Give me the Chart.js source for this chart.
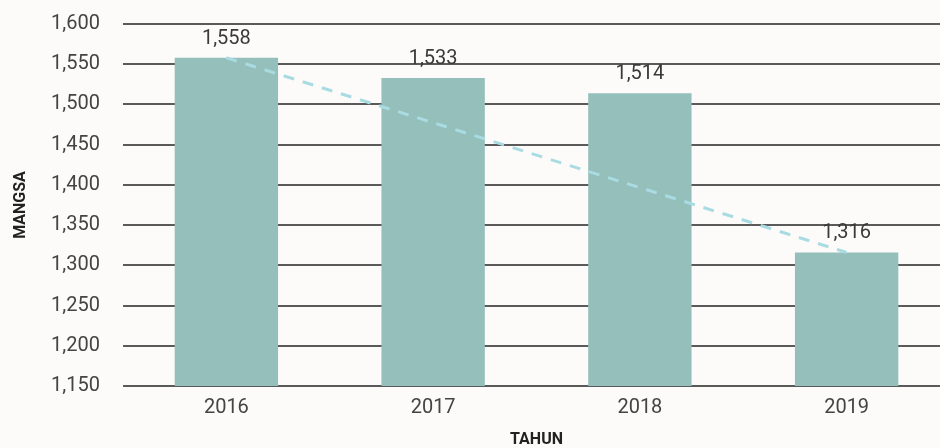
<!DOCTYPE html>
<html>
<head>
<meta charset="utf-8">
<script src="https://cdn.jsdelivr.net/npm/chart.js@4/dist/chart.umd.min.js"></script>
<style>
    html, body { margin: 0; padding: 0; background: #fdfbf9; overflow: hidden; }
    #wrap { width: 950px; height: 448px; }
</style>
</head>
<body>
<div id="wrap"><canvas id="chart"></canvas></div>
<script>
const years = ['2016', '2017', '2018', '2019'];
const mangsa = [1558, 1533, 1514, 1316];
// dashed trend from first year to last year
const trend = [1558, null, null, 1316];
const yTicks = [1150, 1200, 1250, 1300, 1350, 1400, 1450, 1500, 1550, 1600];

const barLabels = {
    id: 'barLabels',
    afterDatasetsDraw(chart) {
        const ctx = chart.ctx;
        const meta = chart.getDatasetMeta(1);
        ctx.save();
        ctx.font = '20px Roboto';
        ctx.fillStyle = '#3a3a3a';
        ctx.textAlign = 'center';
        ctx.textBaseline = 'middle';
        meta.data.forEach((bar, i) => {
            ctx.fillText(mangsa[i].toLocaleString('en-US'), bar.x, bar.y - 19);
        });
        ctx.restore();
    }
};

document.addEventListener('DOMContentLoaded', function() {
    const ctx = document.getElementById('chart').getContext('2d');
    new Chart(ctx, {
        data: {
            labels: years,
            datasets: [{
                type: 'line',
                data: trend,
                spanGaps: true,
                borderColor: '#a9dce2',
                borderWidth: 3,
                borderDash: [11, 9],
                pointRadius: 0,
                fill: false,
                order: 0
            }, {
                type: 'bar',
                data: mangsa,
                backgroundColor: '#94bfbb',
                categoryPercentage: 1,
                barPercentage: 0.5,
                order: 1
            }]
        },
        options: {
            responsive: true,
            maintainAspectRatio: false,
            animation: false,
            layout: { padding: { top: 24, right: 0, left: 0, bottom: 0 } },
            plugins: {
                legend: { display: false },
                tooltip: { enabled: false }
            },
            scales: {
                x: {
                    grid: { display: false },
                    border: { display: false },
                    ticks: { color: '#444', font: { family: 'Roboto', size: 20 }, padding: 2 },
                    title: {
                        display: true,
                        text: 'TAHUN',
                        color: '#222',
                        font: { family: 'Roboto', size: 16, weight: 'bold', lineHeight: 1 },
                        padding: { top: 4, bottom: 0 }
                    },
                    afterFit(scale) { scale.height = 62; }
                },
                y: {
                    min: 1150,
                    max: 1600,
                    afterBuildTicks(scale) { scale.ticks = yTicks.map(v => ({ value: v })); },
                    grid: { color: '#5a5a5a', lineWidth: 2, drawTicks: false },
                    border: { display: false },
                    ticks: {
                        color: '#444',
                        font: { family: 'Roboto', size: 20 },
                        padding: 23,
                        callback: v => v.toLocaleString('en-US')
                    },
                    title: {
                        display: true,
                        text: 'MANGSA',
                        color: '#222',
                        font: { family: 'Roboto', size: 16, weight: 'bold', lineHeight: 1 },
                        padding: { top: 13, bottom: 0 }
                    },
                    afterFit(scale) {
                        scale.width = 123;
                        scale.paddingTop = 0;
                        scale.paddingBottom = 0;
                    }
                }
            }
        },
        plugins: [barLabels]
    });
});
</script>
</body>
</html>
